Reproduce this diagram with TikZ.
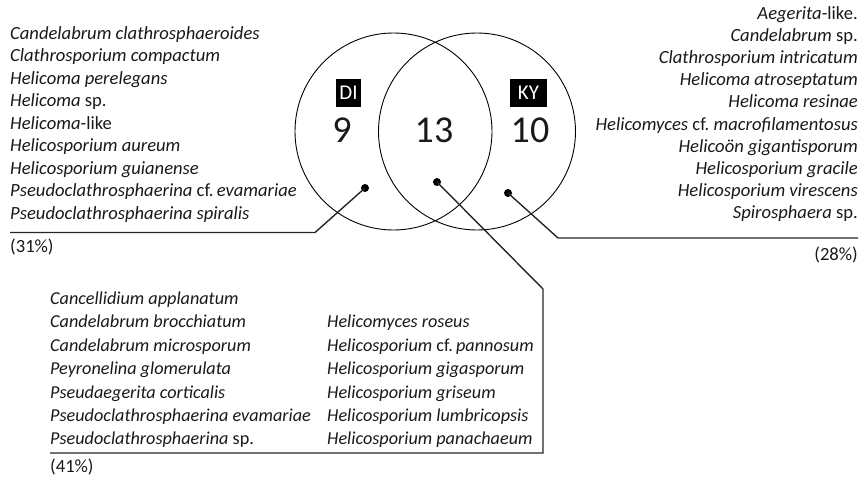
\documentclass[tikz,border=0pt]{standalone}
\usepackage{fontspec}
\setmainfont{Carlito}
\begin{document}
\begin{tikzpicture}[x=1pt,y=-1pt,
  setcircle/.style={draw, circle, line width=0.9pt, minimum size=197pt, inner sep=0pt},
  lst/.style={inner sep=0pt, font=\fontsize{18.6}{20}\selectfont\itshape, text=black!90},
  lstb/.style={inner sep=0pt, font=\fontsize{18.2}{20}\selectfont\itshape, text=black!90},
  pct/.style={inner sep=0pt, font=\fontsize{18.6}{20}\selectfont, text=black!90},
  bignum/.style={inner sep=0pt, font=\fontsize{38}{40}\selectfont, text=black!90},
  tag/.style={fill=black, text=white, inner sep=0pt, minimum height=28pt, font=\fontsize{21}{22}\selectfont},
  dotn/.style={circle, fill=black, inner sep=0pt, minimum size=8pt},
  leader/.style={line width=1.4pt, black!85}]
\useasboundingbox (0,0) rectangle (868,477);
% circles
\node[setcircle] (cDI) at (393.5,131.5) {};
\node[setcircle] (cKY) at (477,131.5) {};
% tags and numbers
\node[tag, minimum width=25pt] (tDI) at (348.5,93) {DI};
\node[tag, minimum width=37pt] (tKY) at (528.5,93) {KY};
\node[bignum] (n9) at (342,130) {9};
\node[bignum] (n13) at (434,130) {13};
\node[bignum] (n10) at (530,130) {10};
% dots
\node[dotn] (dL) at (365,188) {};
\node[dotn] (dM) at (437,182) {};
\node[dotn] (dR) at (508,193) {};
% corner coordinates
\coordinate (lA) at (10,232.5);
\coordinate (lB) at (315,232.5);
\coordinate (mA) at (543,289);
\coordinate (mB) at (543,453);
\coordinate (mC) at (50,453);
\coordinate (rA) at (558,238);
\coordinate (rB) at (858,238);
% leaders
\draw[leader] (dL.center) -- (lB) -- (lA);
\draw[leader] (dM.center) -- (mA) -- (mB) -- (mC);
\draw[leader] (dR.center) -- (rA) -- (rB);
% left list
\foreach \t [count=\i from 0] in {%
  {Candelabrum clathrosphaeroides},
  {Clathrosporium compactum},
  {Helicoma perelegans},
  {Helicoma\/ \upshape sp.},
  {Helicoma\/\upshape -like},
  {Helicosporium aureum},
  {Helicosporium guianense},
  {Pseudoclathrosphaerina \upshape cf.\,\itshape evamariae},
  {Pseudoclathrosphaerina spiralis}}
  \node[lst, anchor=base west] (L\i) at (10,39+22.5*\i) {\t};
\node[pct, anchor=base west] (pL) at (10,252) {(31\%)};
% right list
\foreach \t [count=\i from 0] in {%
  {Aegerita\/\upshape -like.},
  {Candelabrum\/ \upshape sp.},
  {Clathrosporium intricatum},
  {Helicoma atroseptatum},
  {Helicoma resinae},
  {Helicomyces \upshape cf.\ \itshape macrofilamentosus},
  {Helicoön gigantisporum},
  {Helicosporium gracile},
  {Helicosporium virescens},
  {Spirosphaera\/ \upshape sp.}}
  \node[lst, anchor=base east] (R\i) at (858,19.5+22.1*\i) {\t};
\node[pct, anchor=base east] (pR) at (858,260) {(28\%)};
% bottom list column 1
\foreach \t [count=\i from 0] in {%
  {Cancellidium applanatum},
  {Candelabrum brocchiatum},
  {Candelabrum microsporum},
  {Peyronelina glomerulata},
  {Pseudaegerita corticalis},
  {Pseudoclathrosphaerina evamariae},
  {Pseudoclathrosphaerina\/ \upshape sp.}}
  \node[lstb, anchor=base west] (B\i) at (50,304.5+23.4*\i) {\t};
% bottom list column 2
\foreach \t [count=\i from 1] in {%
  {Helicomyces roseus},
  {Helicosporium \upshape cf.\,\itshape pannosum},
  {Helicosporium gigasporum},
  {Helicosporium griseum},
  {Helicosporium lumbricopsis},
  {Helicosporium panachaeum}}
  \node[lstb, anchor=base west] (C\i) at (327,304.5+23.4*\i) {\t};
\node[pct, anchor=base west] (pB) at (50,472) {(41\%)};
\end{tikzpicture}
\end{document}
